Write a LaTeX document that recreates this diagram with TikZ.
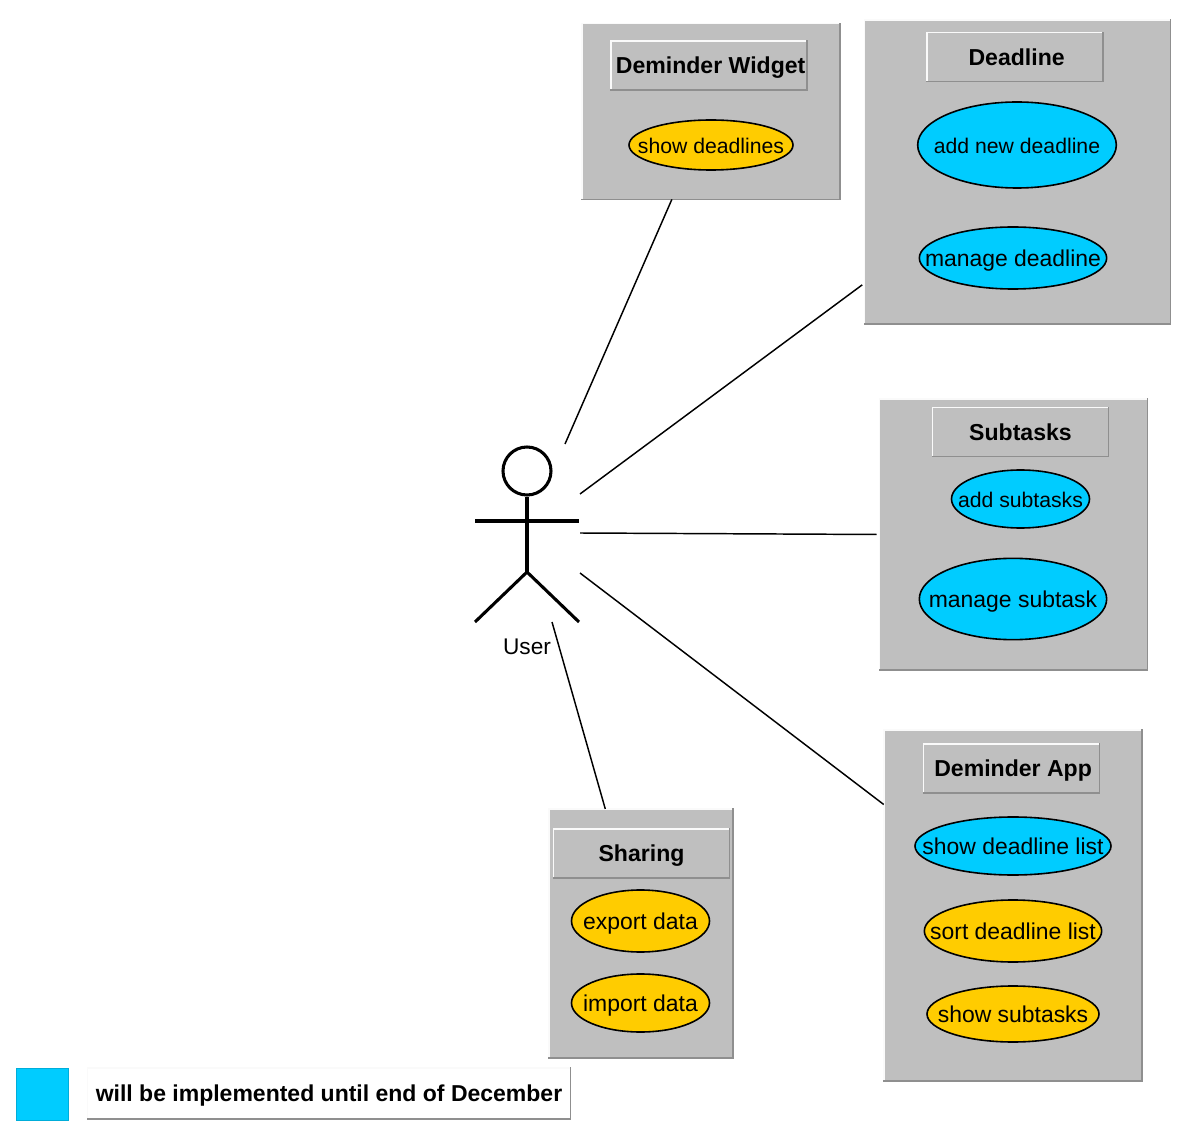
\documentclass[tikz,border=0pt]{standalone}
\usepackage{fontspec}
\setmainfont{Liberation Sans}
\usetikzlibrary{shapes.geometric}
\definecolor{ucgray}{HTML}{BFBFBF}
\definecolor{ucedge}{HTML}{8F8F8F}
\definecolor{uccyan}{HTML}{00CCFF}
\definecolor{ucamber}{HTML}{FFCC00}
\newcommand{\uc}[1]{\makebox[0pt]{#1}}

\begin{document}
\begin{tikzpicture}[
  x=0.75pt, y=-0.75pt,
  hi/.style         = {draw=white!92!ucgray, line width=1.2pt, line cap=rect},
  lo/.style         = {draw=ucedge, line width=1.2pt, line cap=rect},
  raised/.style     = {append after command={
                       (\tikzlastnode.south west) edge[hi] (\tikzlastnode.north west)
                       (\tikzlastnode.north west) edge[hi] (\tikzlastnode.north east)
                       (\tikzlastnode.north east) edge[lo] (\tikzlastnode.south east)
                       (\tikzlastnode.south east) edge[lo] (\tikzlastnode.south west)}},
  panel/.style      = {rectangle, fill=ucgray, inner sep=0pt, raised},
  title/.style      = {rectangle, fill=ucgray, inner sep=0pt, raised,
                       minimum width=131.5pt, minimum height=36.5pt,
                       text height=12.6pt, text depth=0pt,
                       font=\fontsize{17.3}{20}\selectfont\bfseries},
  nudge/.style      = {execute at begin node={\hspace{2.4pt}}},
  usecase/.style    = {ellipse, draw=black, line width=1.2pt, inner sep=0pt,
                       text height=13pt, text depth=0pt,
                       font=\fontsize{17.2}{20}\selectfont},
  ucsmall/.style    = {usecase, font=\fontsize{15.9}{19}\selectfont},
  todo/.style       = {fill=uccyan},
  later/.style      = {fill=ucamber},
  link/.style       = {draw=black, line width=1.1pt},
  limb/.style       = {draw=black, line width=2.3pt},
]
\useasboundingbox (0,0) rectangle (1186,1130);
% panels
\node[panel, minimum width=193.5pt, minimum height=131.5pt] (widget) at (711,111.5) {};
\node[panel, minimum width=229pt, minimum height=228pt] (deadline) at (1017.5,172) {};
\node[panel, minimum width=200.5pt, minimum height=203pt] (subtasks) at (1013.5,534.5) {};
\node[panel, minimum width=193.5pt, minimum height=263pt] (app) at (1013,905.5) {};
\node[panel, minimum width=138pt, minimum height=186.5pt] (sharing) at (641,933.5) {};
% titles
\node[title, nudge, minimum width=147pt] (widgettitle) at (709,65.5) {Deminder Widget};
\node[title, nudge] (deadlinetitle) at (1015,57) {Deadline};
\node[title] (subtaskstitle) at (1020.5,432) {Subtasks};
\node[title, nudge] (apptitle) at (1011.5,768.5) {Deminder App};
\node[title] (sharingtitle) at (641.5,853.5) {Sharing};
% use cases
\node[ucsmall, later, minimum width=123pt, minimum height=37.5pt] (showdeadlines) at (711,145) {\uc{show deadlines}};
\node[ucsmall, todo, minimum width=149pt, minimum height=64.5pt] (adddeadline) at (1017,145) {\uc{add new deadline}};
\node[usecase, todo, minimum width=140.5pt, minimum height=46.5pt] (managedeadline) at (1013,258) {\uc{manage deadline}};
\node[ucsmall, todo, minimum width=103.5pt, minimum height=43.5pt] (addsubtasks) at (1020.5,499) {\uc{add subtasks}};
\node[usecase, todo, minimum width=140.5pt, minimum height=61pt] (managesubtask) at (1013,599) {\uc{manage subtask}};
\node[usecase, todo, minimum width=147pt, minimum height=43.5pt] (showlist) at (1013,846) {\uc{show deadline list}};
\node[usecase, later, minimum width=133pt, minimum height=46.5pt] (sortlist) at (1013,931) {\uc{sort deadline list}};
\node[usecase, later, minimum width=129pt, minimum height=42pt] (showsubtasks) at (1013,1014) {\uc{show subtasks}};
\node[usecase, later, minimum width=103.5pt, minimum height=46.5pt] (exportdata) at (640.5,921) {\uc{export data}};
\node[usecase, later, minimum width=103.5pt, minimum height=43.5pt] (importdata) at (640.5,1003) {\uc{import data}};
% actor
\node[circle, draw=black, line width=2.3pt, minimum size=36pt, inner sep=0pt] (head) at (527,471) {};
\coordinate (hip) at (527,572);
\coordinate (armleft) at (475,521);
\coordinate (armright) at (579,521);
\coordinate (legleft) at (475,622);
\coordinate (legright) at (579,622);
\draw[limb] (head.south) -- (hip);
\draw[limb] (armleft) -- (armright);
\draw[limb] (legleft) -- (hip) -- (legright);
\node[font=\fontsize{17}{20}\selectfont, inner sep=0pt] (user) at (527,647) {User};
% connectors
\coordinate (userwidget) at (565,444);
\coordinate (userdeadline) at (580,494);
\coordinate (usersubtasks) at (580,533);
\coordinate (userapp) at (580,573);
\coordinate (usersharing) at (552,622);
\draw[link] (userwidget) -- (widget.-114.6);
\draw[link, shorten >=2.2pt] (userdeadline) -- (deadline.216.4);
\draw[link, shorten >=2.2pt] (usersubtasks) -- (subtasks.west);
\draw[link] (userapp) -- (app.142.1);
\draw[link] (usersharing) -- (sharing.106.1);
% legend
\node[rectangle, fill=uccyan, inner sep=0pt, minimum size=39.5pt, draw=uccyan!85!black, line width=0.6pt] (swatch) at (42.5,1094.5) {};
\node[rectangle, fill=white, inner sep=0pt, minimum width=362pt, minimum height=38pt, raised,
      text height=12.6pt, text depth=0pt,
      font=\fontsize{17.25}{20}\selectfont\bfseries] (legend) at (329,1093.5) {will be implemented until end of December};
\end{tikzpicture}
\end{document}
